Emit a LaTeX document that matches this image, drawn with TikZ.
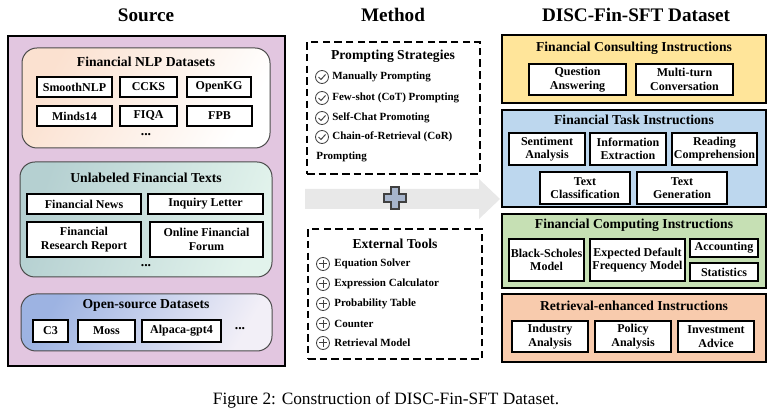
\documentclass[tikz,border=0pt]{standalone}
\usepackage{fontspec}
\setmainfont{Liberation Serif}
\definecolor{srcpurple}{HTML}{E2C6E0}
\definecolor{nlppeach}{HTML}{FBE1D0}
\definecolor{txtteal}{HTML}{B5D0D1}
\definecolor{txtmint}{HTML}{E2F3EC}
\definecolor{osblue}{HTML}{9DB3E2}
\definecolor{oslight}{HTML}{F2EFF7}
\definecolor{consyellow}{HTML}{FFE59A}
\definecolor{taskblue}{HTML}{BDD7EE}
\definecolor{compgreen}{HTML}{C6E0B4}
\definecolor{retrorange}{HTML}{F8CBAD}
\definecolor{plusblue}{HTML}{A7B5CC}
\tikzset{frame/.style = {draw, line width = 1pt, inner sep = 0}}
\tikzset{group/.style = {draw = black!70, line width = 0.6pt, rounded corners = 9pt, inner sep = 0}}
\tikzset{dashbox/.style = {draw, line width = 0.9pt, dash pattern = on 4.5pt off 2.5pt, inner sep = 0}}
\tikzset{cell/.style = {draw, fill = white, line width = 0.8pt, inner sep = 0, align = center,
                        font = \bfseries\fontsize{7.2}{8.1}\selectfont}}
\tikzset{hdr/.style = {font = \bfseries\fontsize{11.5}{13}\selectfont}}
\tikzset{ttl/.style = {font = \bfseries\fontsize{8.2}{9.5}\selectfont}}
\tikzset{item/.style = {anchor = west, inner sep = 0, font = \bfseries\fontsize{6.6}{8}\selectfont}}
% box from corner (x1,y1) to (x2,y2), in pixels of 0.6pt
\newcommand{\boxat}[7][cell]{%
  \node[#1, minimum width = {(#5-#3)*0.6pt}, minimum height = {(#6-#4)*0.6pt}]
    (#2) at ({(#3+#5)/2},{(#4+#6)/2}) {#7};}

\begin{document}
\begin{tikzpicture}[x = 0.6pt, y = -0.6pt]
    \useasboundingbox (0,0) rectangle (772,414);
    % headers
    \node[hdr] (hsrc) at (146,15) {Source};
    \node[hdr] (hmeth) at (393,15) {Method};
    \node[hdr] (hdisc) at (636,15) {DISC-Fin-SFT Dataset};

    % source column
    \boxat[frame, fill = srcpurple]{source}{8}{36}{285}{366}{}
    \boxat[group, left color = nlppeach, right color = white, shading angle = 60]{nlp}{22}{48}{270}{148}{}
    \node[ttl] (nlpt) at (146,62) {Financial NLP Datasets};
    \boxat{smooth}{37}{77}{112}{97}{SmoothNLP}
    \boxat{ccks}{120}{77}{177}{97}{CCKS}
    \boxat{openkg}{187}{77}{251}{97}{OpenKG}
    \boxat{minds}{37}{106}{112}{126}{Minds14}
    \boxat{fiqa}{120}{106}{177}{126}{FIQA}
    \boxat{fpb}{187}{106}{252}{126}{FPB}
    \node[ttl] (nlpdots) at (146,135) {...};

    \boxat[group, left color = txtteal, right color = txtmint, shading angle = 70]{unl}{20}{162}{272}{277}{}
    \node[ttl] (unlt) at (146,178) {Unlabeled Financial Texts};
    \boxat{news}{27}{194}{141}{214}{Financial News}
    \boxat{letter}{148}{194}{263}{214}{Inquiry Letter}
    \boxat{report}{27}{222}{141}{257}{Financial\\Research Report}
    \boxat{forum}{150}{222}{263}{257}{Online Financial\\Forum}
    \node[ttl] (unldots) at (146,266) {...};

    \boxat[group, left color = osblue, right color = oslight, shading angle = 60]{open}{21}{294}{272}{351}{}
    \node[ttl] (opent) at (146,305) {Open-source Datasets};
    \boxat{cthree}{33}{320}{68}{342}{C3}
    \boxat{moss}{78}{320}{135}{342}{Moss}
    \boxat{alpaca}{142}{320}{221}{342}{Alpaca-gpt4}
    \node[ttl] (opendots) at (240,329) {...};

    % method column
    \fill[gray!18] (305,189) -- (479,189) -- (479,179) -- (500,199) -- (479,219) -- (479,209) -- (305,209) -- cycle;
    \draw[fill = plusblue, draw = black!75, line width = 0.7pt]
        (391,187) -- (399,187) -- (399,194) -- (406,194) -- (406,202) -- (399,202) -- (399,209)
        -- (391,209) -- (391,202) -- (384,202) -- (384,194) -- (391,194) -- cycle;

    \boxat[dashbox]{prompt}{307}{42}{480}{174}{}
    \node[ttl] (promptt) at (393,56) {Prompting Strategies};
    \foreach \y/\t [count = \i] in {77/Manually Prompting, 98/Few-shot (CoT) Prompting,
                                   118/Self-Chat Promoting, 137/Chain-of-Retrieval (CoR)} {
        \draw[black!75, line width = 0.5pt] (322,\y) circle [radius = 6.5];
        \draw[black!75, line width = 0.6pt] (318.5,\y) -- (321,\y+2.5) -- (325.5,\y-2.5);
        \node[item] (ps\i) at (332,\y) {\t};
    }
    \node[item] (pslast) at (316,157) {Prompting};

    \boxat[dashbox]{tools}{308}{229}{482}{359}{}
    \node[ttl] (toolst) at (395,244) {External Tools};
    \foreach \y/\t [count = \i] in {264/Equation Solver, 284/Expression Calculator,
                                   304/Probability Table, 324/Counter, 343/Retrieval Model} {
        \draw[black!75, line width = 0.5pt] (323,\y) circle [radius = 6.5];
        \draw[black!75, line width = 0.6pt] (319,\y) -- (327,\y) (323,\y-4) -- (323,\y+4);
        \node[item] (et\i) at (334,\y) {\t};
    }

    % dataset column
    \boxat[frame, fill = consyellow]{cons}{502}{35}{766}{103}{}
    \node[ttl] (const) at (634,48) {Financial Consulting Instructions};
    \boxat{qa}{529}{64}{626}{95}{Question\\Answering}
    \boxat{multi}{636}{64}{733}{95}{Multi-turn\\Conversation}

    \boxat[frame, fill = taskblue]{task}{502}{110}{766}{207}{}
    \node[ttl] (taskt) at (634,120) {Financial Task Instructions};
    \boxat{senti}{509}{133}{585}{165}{Sentiment\\Analysis}
    \boxat{info}{590}{133}{666}{165}{Information\\Extraction}
    \boxat{read}{672}{133}{757}{165}{Reading\\Comprehension}
    \boxat{cls}{540}{172}{630}{204}{Text\\Classification}
    \boxat{gen}{637}{172}{727}{204}{Text\\Generation}

    \boxat[frame, fill = compgreen]{comp}{502}{214}{766}{288}{}
    \node[ttl] (compt) at (634,225) {Financial Computing Instructions};
    \boxat{bs}{509}{239}{584}{281}{Black-Scholes\\Model}
    \boxat{edf}{590}{239}{685}{281}{Expected Default\\Frequency Model}
    \boxat{acc}{690}{239}{758}{257}{Accounting}
    \boxat{stat}{690}{263}{758}{281}{Statistics}

    \boxat[frame, fill = retrorange]{retr}{502}{294}{766}{362}{}
    \node[ttl] (retrt) at (634,306) {Retrieval-enhanced Instructions};
    \boxat{ind}{512}{321}{588}{352}{Industry\\Analysis}
    \boxat{pol}{595}{321}{671}{352}{Policy\\Analysis}
    \boxat{inv}{678}{321}{754}{352}{Investment\\Advice}

    % caption
    \node[font = \fontsize{10.4}{12}\selectfont] (cap) at (386,400) {Figure 2: Construction of DISC-Fin-SFT Dataset.};
\end{tikzpicture}
\end{document}
